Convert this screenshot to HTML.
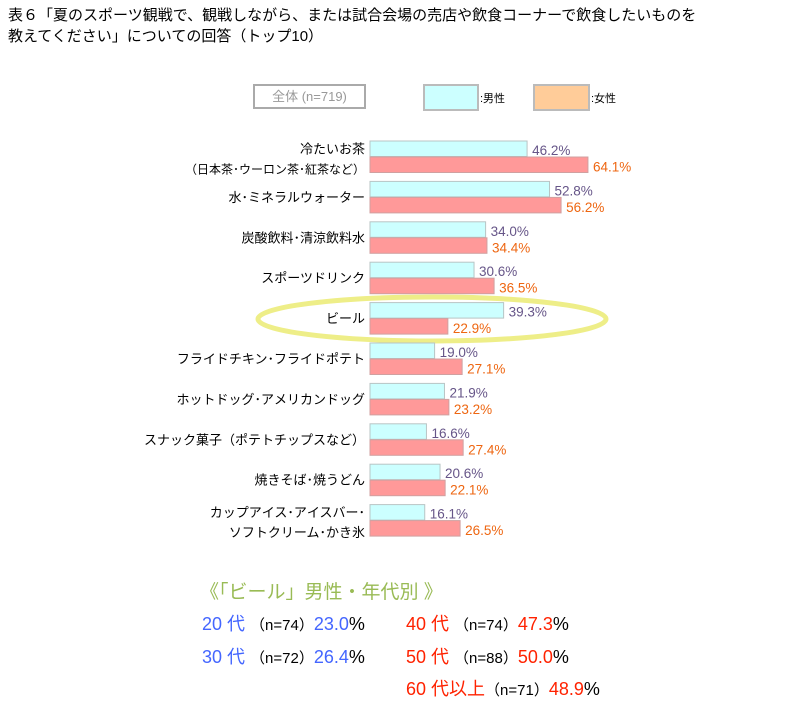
<!DOCTYPE html>
<html><head><meta charset="utf-8"><style>
body{margin:0;width:810px;height:712px;background:#fff;font-family:"Liberation Sans","Noto Sans CJK JP",sans-serif;position:relative;overflow:hidden}
.t{position:absolute;white-space:nowrap}
</style></head><body>
<div class="t" style="left:8px;top:5px;font-size:15px;line-height:21px;color:#000">表６「夏のスポーツ観戦で、観戦しながら、または試合会場の売店や飲食コーナーで飲食したいものを<br>教えてください」についての回答（トップ10）</div>
<div class="t" style="left:253px;top:84px;width:113px;height:25px;border:2px solid #aaa;box-sizing:border-box;color:#999;font-size:13px;line-height:21px;text-align:center">全体 (n=719)</div>
<div class="t" style="left:423px;top:84px;width:56px;height:27px;background:#ccffff;border:2px solid #bbb;box-sizing:border-box"></div>
<div class="t" style="left:480px;top:90px;font-size:11px">:男性</div>
<div class="t" style="left:533px;top:84px;width:57px;height:27px;background:#ffcc99;border:2px solid #bbb;box-sizing:border-box"></div>
<div class="t" style="left:591px;top:90px;font-size:11px">:女性</div>
<svg id="chart" width="810" height="712" style="position:absolute;left:0;top:0">
<ellipse cx="432" cy="319" rx="174" ry="22" fill="none" stroke="#eeee88" stroke-width="5"/>
</svg>
<div class="t" style="left:200px;top:577px;font-size:19px;color:#99bb55">《「ビール」男性・年代別 》</div>
<div class="t" style="left:202px;top:610px;font-size:18px"><span style="color:#4466ff">20 代</span> <span style="font-size:15px">（n=74）</span><span style="color:#4466ff">23.0</span>%</div>
<div class="t" style="left:202px;top:643px;font-size:18px"><span style="color:#4466ff">30 代</span> <span style="font-size:15px">（n=72）</span><span style="color:#4466ff">26.4</span>%</div>
<div class="t" style="left:406px;top:610px;font-size:18px"><span style="color:#ff2200">40 代</span> <span style="font-size:15px">（n=74）</span><span style="color:#ff2200">47.3</span>%</div>
<div class="t" style="left:406px;top:643px;font-size:18px"><span style="color:#ff2200">50 代</span> <span style="font-size:15px">（n=88）</span><span style="color:#ff2200">50.0</span>%</div>
<div class="t" style="left:406px;top:675px;font-size:18px"><span style="color:#ff2200">60 代以上</span><span style="font-size:15px">（n=71）</span><span style="color:#ff2200">48.9</span>%</div>
<script>
const categories=[["冷たいお茶","（日本茶･ウーロン茶･紅茶など）"],["水･ミネラルウォーター"],["炭酸飲料･清涼飲料水"],["スポーツドリンク"],["ビール"],["フライドチキン･フライドポテト"],["ホットドッグ･アメリカンドッグ"],["スナック菓子（ポテトチップスなど）"],["焼きそば･焼うどん"],["カップアイス･アイスバー･","ソフトクリーム･かき氷"]];
const maleValues=[46.2,52.8,34.0,30.6,39.3,19.0,21.9,16.6,20.6,16.1];
const femaleValues=[64.1,56.2,34.4,36.5,22.9,27.1,23.2,27.4,22.1,26.5];
const NS="http://www.w3.org/2000/svg";
const svg=document.getElementById("chart");
const x0=370,scale=3.4;
const xw=v=>v*scale;
const yTop=i=>141+i*40.4;
const bh=15.5;
function mk(tag,attrs){const e=document.createElementNS(NS,tag);for(const k in attrs)e.setAttribute(k,attrs[k]);svg.appendChild(e);return e;}
categories.forEach((c,i)=>{
  const y=yTop(i);
  const m=mk("rect",{x:x0,y:y,width:xw(maleValues[i]),height:bh,fill:"#ccffff",stroke:"#b8c4c4","stroke-width":1});
  
  
  const f=mk("rect",{x:x0,y:y+bh+0.5,width:xw(femaleValues[i]),height:bh,fill:"#ff9999",stroke:"#d0a0a0","stroke-width":1});
  
  
  const mt=mk("text",{x:x0+xw(maleValues[i])+5,y:y+14,"font-size":13.5,fill:"#665588"});
  mt.textContent=maleValues[i].toFixed(1)+"%";
  
  
  const ft=mk("text",{x:x0+xw(femaleValues[i])+5,y:y+bh+15,"font-size":13.5,fill:"#ee6611"});
  ft.textContent=femaleValues[i].toFixed(1)+"%";
  
  
  const cy=y+bh;
  c.forEach((line,j)=>{
    const off=c.length===1?5:(j===0?-3:17);
    const t=mk("text",{x:365,y:cy+off,"font-size":j===1&&i===0?12:13,"text-anchor":"end",fill:"#000"});
    t.textContent=line;
    
    
  });
});
</script>
</body></html>
